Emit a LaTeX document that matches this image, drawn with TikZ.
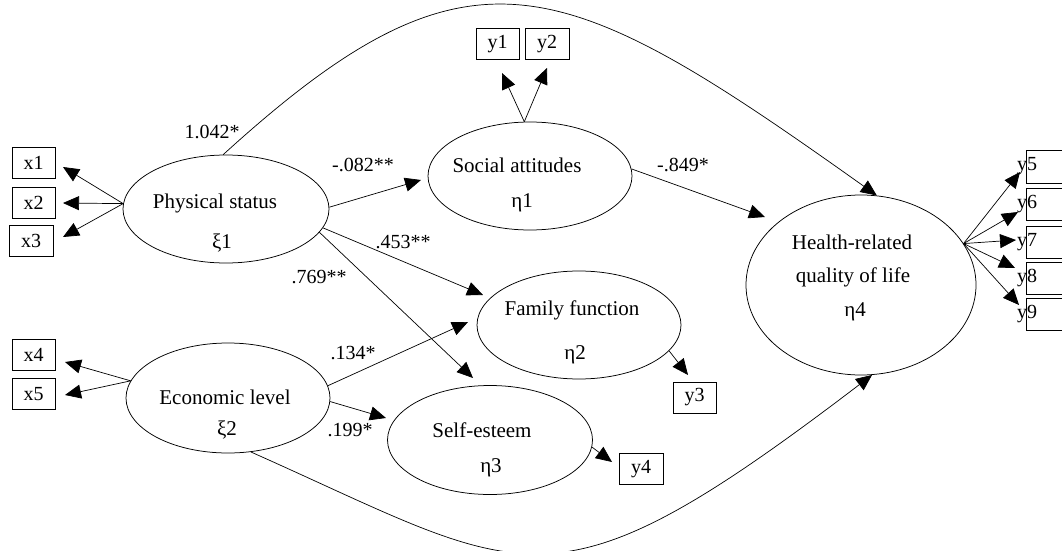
\documentclass[tikz,border=0pt]{standalone}
\usepackage{fontspec}
\setmainfont{Liberation Serif}
\usetikzlibrary{arrows.meta,shapes.geometric}
\begin{document}
\begin{tikzpicture}[x=1pt,y=-1pt,
  lat/.style={draw,ellipse,inner sep=0pt,line width=0.75pt},
  obs/.style={draw,rectangle,minimum width=43pt,minimum height=31pt,inner sep=0pt,line width=0.75pt,font=\fontsize{20}{24}\selectfont},
  lbl/.style={font=\fontsize{20}{24}\selectfont,inner sep=0pt},
  ltxt/.style={font=\fontsize{21}{25}\selectfont,inner sep=0pt},
  arr/.style={line width=0.7pt,-{Triangle[length=16pt,width=14pt]}},
]
\useasboundingbox (0,0) rectangle (1062,551);

% latent variables
\node[lat,minimum width=206pt,minimum height=108pt] (phys) at (226,209) {};
\node[lat,minimum width=204pt,minimum height=110pt] (eco) at (228,398) {};
\node[lat,minimum width=204pt,minimum height=108pt] (soc) at (530,176) {};
\node[lat,minimum width=204pt,minimum height=108pt] (fam) at (579,325) {};
\node[lat,minimum width=205pt,minimum height=109pt] (self) at (490,440) {};
\node[lat,minimum width=230pt,minimum height=180pt] (health) at (861,285) {};

% latent texts
\node[ltxt] (physA) at (215,203) {Physical status};
\node[ltxt] (physB) at (222,243) {ξ1};
\node[ltxt] (ecoA) at (225,397) {Economic level};
\node[ltxt] (ecoB) at (227,430) {ξ2};
\node[ltxt] (socA) at (517,165) {Social attitudes};
\node[ltxt] (socB) at (522,203) {η1};
\node[ltxt] (famA) at (572,310) {Family function};
\node[ltxt] (famB) at (575,355) {η2};
\node[ltxt] (selfA) at (482,430) {Self-esteem};
\node[ltxt] (selfB) at (491,468) {η3};
\node[ltxt] (healthA) at (852,242) {Health-related};
\node[ltxt] (healthB) at (853,277) {quality of life};
\node[ltxt] (healthC) at (855,312) {η4};

% observed variables
\node[obs] (x1) at (33.5,162.5) {x1};
\node[obs] (x2) at (33.5,202.5) {x2};
\node[obs,minimum width=44pt] (x3) at (31,241) {x3};
\node[obs] (x4) at (33.5,355) {x4};
\node[obs] (x5) at (33.5,394) {x5};
\node[obs] (y1) at (497.5,44) {y1};
\node[obs,minimum width=44pt] (y2) at (547,44) {y2};
\node[obs] (y3) at (694.5,397.5) {y3};
\node[obs,minimum width=44pt] (y4) at (641,469) {y4};
\node[obs,minimum width=50pt,minimum height=33pt,anchor=west] (y5) at (1026,166.5) {};
\node[obs,minimum width=50pt,minimum height=32pt,anchor=west] (y6) at (1026,204) {};
\node[obs,minimum width=50pt,minimum height=32pt,anchor=west] (y7) at (1026,242) {};
\node[obs,minimum width=50pt,minimum height=32pt,anchor=west] (y8) at (1026,278) {};
\node[obs,minimum width=50pt,minimum height=32pt,anchor=west] (y9) at (1026,314) {};
\node[lbl] (y5t) at (1027,166.5) {y5};
\node[lbl] (y6t) at (1027,204) {y6};
\node[lbl] (y7t) at (1027,242) {y7};
\node[lbl] (y8t) at (1027,278) {y8};
\node[lbl] (y9t) at (1027,314) {y9};

% arrow tip coordinates
\coordinate (tx1) at (63,167);
\coordinate (tx2) at (63,203);
\coordinate (tx3) at (63,237);
\coordinate (tx4) at (65,362);
\coordinate (tx5) at (65,395);
\coordinate (tsoc) at (421,180);
\coordinate (tfam1) at (483,295);
\coordinate (tself1) at (473,378);
\coordinate (tfam2) at (468,322);
\coordinate (tself2) at (386,418);
\coordinate (ty1) at (502,73);
\coordinate (ty2) at (547,68);
\coordinate (thealth) at (765,217);
\coordinate (ty3) at (688,375);
\coordinate (ty4) at (612,462);
\coordinate (ty5) at (1020,172);
\coordinate (ty6) at (1018,212);
\coordinate (ty7) at (1016,240);
\coordinate (ty8) at (1015,268);
\coordinate (ty9) at (1019,305);

% measurement arrows
\draw[arr] (phys.177) -- (tx1);
\draw[arr] (phys.177) -- (tx2);
\draw[arr] (phys.177) -- (tx3);
\draw[arr] (eco.170) -- (tx4);
\draw[arr] (eco.170) -- (tx5);
\draw[arr] (soc.96) -- (ty1);
\draw[arr] (soc.96) -- (ty2);
\draw[arr] (fam.-16) -- (ty3);
\draw[arr] (self.-4) -- (ty4);
\draw[arr] (health.22) -- (ty5);
\draw[arr] (health.22) -- (ty6);
\draw[arr] (health.22) -- (ty7);
\draw[arr] (health.22) -- (ty8);
\draw[arr] (health.22) -- (ty9);

% structural arrows
\draw[arr] (phys.1) -- (tsoc);
\draw[arr] (phys.-11) -- (tfam1);
\draw[arr] (phys.-14) -- (tself1);
\draw[arr] (eco.7) -- (tfam2);
\draw[arr] (eco.-2) -- (tself2);
\draw[arr] (soc.4) -- (thealth);
\draw[arr] (phys.93) .. controls (470,-70) and (560,-30) .. (health.80);
\draw[arr] (eco.-67) .. controls (530,576) and (548,622) .. (health.-83);

% coefficient labels
\node[lbl] (c1) at (212,132) {1.042*};
\node[lbl] (c2) at (363,165) {-.082**};
\node[lbl] (c3) at (403,242) {.453**};
\node[lbl] (c4) at (319,277) {.769**};
\node[lbl] (c5) at (353,353) {.134*};
\node[lbl] (c6) at (350,430) {.199*};
\node[lbl] (c7) at (683,165) {-.849*};
\end{tikzpicture}
\end{document}
